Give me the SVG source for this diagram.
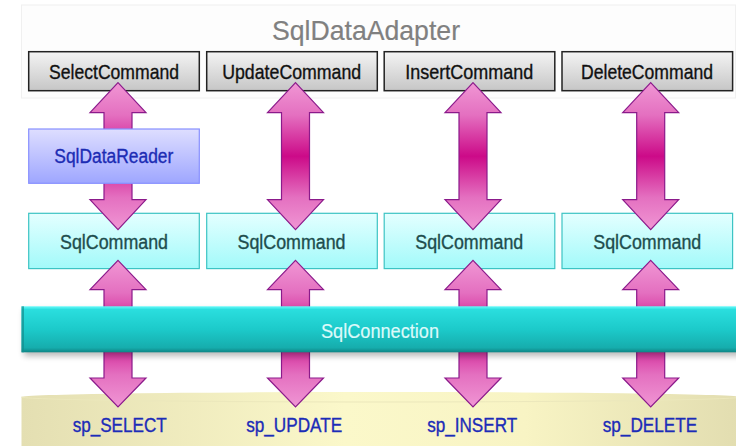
<svg xmlns="http://www.w3.org/2000/svg" width="736" height="446" viewBox="0 0 736 446">
  <defs>
    <style>
      text { font-family: "Liberation Sans", Arial, sans-serif; text-anchor: middle; stroke-width: 0.35; }
      .title { font-size: 28px; fill: #808080; stroke: #808080; stroke-width: 0.2; }
      .cmd-box { fill: url(#gCmd); stroke: #222; stroke-width: 1.5; }
      .cmd-txt { font-size: 21px; fill: #111; stroke: #111; }
      .sc-box { fill: url(#gSc); stroke: #3cc4c4; stroke-width: 1.2; }
      .sc-txt { font-size: 20px; fill: #1e4d4d; stroke: #1e4d4d; }
      .rd-box { fill: url(#gRd); stroke: #8890ff; stroke-width: 1.2; }
      .rd-txt { font-size: 20px; fill: #1c2cb4; stroke: #1c2cb4; }
      .sp-txt { font-size: 20px; fill: #1c2cb8; stroke: #1c2cb8; }
      .conn-txt { font-size: 20px; fill: #dcfafa; stroke: #dcfafa; stroke-width: 0.2; }
      .arrow { fill: url(#gArrow); stroke: #8b1a8b; stroke-width: 1.2; stroke-linejoin: miter; }
    </style>
    <linearGradient id="gCmd" x1="0" y1="0" x2="0" y2="1">
      <stop offset="0" stop-color="#f4f4f4"/>
      <stop offset="1" stop-color="#c6c6c6"/>
    </linearGradient>
    <linearGradient id="gSc" x1="0" y1="0" x2="0" y2="1">
      <stop offset="0" stop-color="#e4ffff"/>
      <stop offset="1" stop-color="#a2fafa"/>
    </linearGradient>
    <linearGradient id="gRd" x1="0" y1="0" x2="0" y2="1">
      <stop offset="0" stop-color="#dedeff"/>
      <stop offset="1" stop-color="#9ea6ff"/>
    </linearGradient>
    <linearGradient id="gArrow" x1="0" y1="0" x2="0" y2="1">
      <stop offset="0" stop-color="#f096d4"/>
      <stop offset="0.22" stop-color="#e470c0"/>
      <stop offset="0.5" stop-color="#cc0a88"/>
      <stop offset="0.78" stop-color="#e470c0"/>
      <stop offset="1" stop-color="#f096d4"/>
    </linearGradient>
    <linearGradient id="gConn" x1="0" y1="0" x2="0" y2="1">
      <stop offset="0" stop-color="#66fbfb"/>
      <stop offset="0.07" stop-color="#2adede"/>
      <stop offset="0.5" stop-color="#1ccaca"/>
      <stop offset="0.9" stop-color="#16adad"/>
      <stop offset="1" stop-color="#0e8585"/>
    </linearGradient>
    <linearGradient id="gDb" x1="0" y1="0" x2="1" y2="0">
      <stop offset="0" stop-color="#e4dfb2"/>
      <stop offset="0.45" stop-color="#fbf8ca"/>
      <stop offset="0.7" stop-color="#f8f4c4"/>
      <stop offset="1" stop-color="#e2ddb0"/>
    </linearGradient>
    <filter id="fShadow" x="-5%" y="-50%" width="110%" height="200%">
      <feGaussianBlur stdDeviation="3"/>
    </filter>
  </defs>

  <rect width="736" height="446" fill="#ffffff"/>

  <!-- adapter panel -->
  <g id="adapter">
    <rect x="21.5" y="5" width="714" height="93" fill="#fdfdfd" stroke="#f0f0f0" stroke-width="1"/>
    <text class="title" x="366" y="40" textLength="188" lengthAdjust="spacingAndGlyphs">SqlDataAdapter</text>
  </g>

  <!-- command boxes -->
  <g id="select-command">
    <rect class="cmd-box" x="28.7" y="51.7" width="170.6" height="39"/>
    <text class="cmd-txt" x="114" y="79" textLength="130" lengthAdjust="spacingAndGlyphs">SelectCommand</text>
  </g>
  <g id="update-command">
    <rect class="cmd-box" x="206.7" y="51.7" width="170.6" height="39"/>
    <text class="cmd-txt" x="291.7" y="79" textLength="139" lengthAdjust="spacingAndGlyphs">UpdateCommand</text>
  </g>
  <g id="insert-command">
    <rect class="cmd-box" x="384.2" y="51.7" width="170.6" height="39"/>
    <text class="cmd-txt" x="469.3" y="79" textLength="128" lengthAdjust="spacingAndGlyphs">InsertCommand</text>
  </g>
  <g id="delete-command">
    <rect class="cmd-box" x="562" y="51.7" width="170.6" height="39"/>
    <text class="cmd-txt" x="647" y="79" textLength="132" lengthAdjust="spacingAndGlyphs">DeleteCommand</text>
  </g>

  <!-- SqlCommand boxes -->
  <g id="sqlcommand-1">
    <rect class="sc-box" x="28.7" y="213.3" width="170.6" height="55.3"/>
    <text class="sc-txt" x="114" y="248.7" textLength="108" lengthAdjust="spacingAndGlyphs">SqlCommand</text>
  </g>
  <g id="sqlcommand-2">
    <rect class="sc-box" x="206.7" y="213.3" width="170.6" height="55.3"/>
    <text class="sc-txt" x="291.5" y="248.7" textLength="108" lengthAdjust="spacingAndGlyphs">SqlCommand</text>
  </g>
  <g id="sqlcommand-3">
    <rect class="sc-box" x="384.2" y="213.3" width="170.6" height="55.3"/>
    <text class="sc-txt" x="469.3" y="248.7" textLength="108" lengthAdjust="spacingAndGlyphs">SqlCommand</text>
  </g>
  <g id="sqlcommand-4">
    <rect class="sc-box" x="562" y="213.3" width="170.6" height="55.3"/>
    <text class="sc-txt" x="647.3" y="248.7" textLength="108" lengthAdjust="spacingAndGlyphs">SqlCommand</text>
  </g>

  <!-- database with stored procedures -->
  <g id="database">
    <path d="M21.5,397 A359.5,5 0 0 1 740.5,397 V446 H21.5 Z" fill="url(#gDb)"/>
    <path d="M21.5,397 A359.5,5 0 0 0 740.5,397" fill="none" stroke="#ece8bc" stroke-width="1"/>
    <text class="sp-txt" x="119.7" y="431.5" textLength="94" lengthAdjust="spacingAndGlyphs">sp_SELECT</text>
    <text class="sp-txt" x="294.2" y="431.5" textLength="96" lengthAdjust="spacingAndGlyphs">sp_UPDATE</text>
    <text class="sp-txt" x="472.2" y="431.5" textLength="90" lengthAdjust="spacingAndGlyphs">sp_INSERT</text>
    <text class="sp-txt" x="650" y="431.5" textLength="94.6" lengthAdjust="spacingAndGlyphs">sp_DELETE</text>
  </g>

  <!-- double-headed arrows -->
  <g id="connectors">
    <path class="arrow" d="M118,82.7 L146,112.7 L132,112.7 L132,199.7 L146,199.7 L118,229.7 L90,199.7 L104,199.7 L104,112.7 L90,112.7 Z"/>
    <path class="arrow" d="M295.5,82.7 L323.5,112.7 L309.5,112.7 L309.5,199.7 L323.5,199.7 L295.5,229.7 L267.5,199.7 L281.5,199.7 L281.5,112.7 L267.5,112.7 Z"/>
    <path class="arrow" d="M473,82.7 L501,112.7 L487,112.7 L487,199.7 L501,199.7 L473,229.7 L445,199.7 L459,199.7 L459,112.7 L445,112.7 Z"/>
    <path class="arrow" d="M650.7,82.7 L678.7,112.7 L664.7,112.7 L664.7,199.7 L678.7,199.7 L650.7,229.7 L622.7,199.7 L636.7,199.7 L636.7,112.7 L622.7,112.7 Z"/>

    <path class="arrow" d="M118,260.3 L146,289.7 L132,289.7 L132,378 L146,378 L118,407 L90,378 L104,378 L104,289.7 L90,289.7 Z"/>
    <path class="arrow" d="M295.5,260.3 L323.5,289.7 L309.5,289.7 L309.5,378 L323.5,378 L295.5,407 L267.5,378 L281.5,378 L281.5,289.7 L267.5,289.7 Z"/>
    <path class="arrow" d="M473,260.3 L501,289.7 L487,289.7 L487,378 L501,378 L473,407 L445,378 L459,378 L459,289.7 L445,289.7 Z"/>
    <path class="arrow" d="M650.7,260.3 L678.7,289.7 L664.7,289.7 L664.7,378 L678.7,378 L650.7,407 L622.7,378 L636.7,378 L636.7,289.7 L622.7,289.7 Z"/>
  </g>

  <!-- reader sits over the select arrow -->
  <g id="sqldatareader">
    <rect class="rd-box" x="28.7" y="129" width="170.6" height="54.3"/>
    <text class="rd-txt" x="113.8" y="163.3" textLength="119" lengthAdjust="spacingAndGlyphs">SqlDataReader</text>
  </g>

  <!-- connection bar over the lower arrows -->
  <g id="sqlconnection">
    <rect x="24" y="310" width="720" height="46" fill="#000" opacity="0.28" filter="url(#fShadow)"/>
    <rect x="21.5" y="306.3" width="720" height="46" fill="url(#gConn)"/>
    <rect x="21.5" y="306.3" width="2.5" height="46" fill="#128f8f" opacity="0.7"/>
    <text class="conn-txt" x="380" y="338" textLength="118" lengthAdjust="spacingAndGlyphs">SqlConnection</text>
  </g>
</svg>
